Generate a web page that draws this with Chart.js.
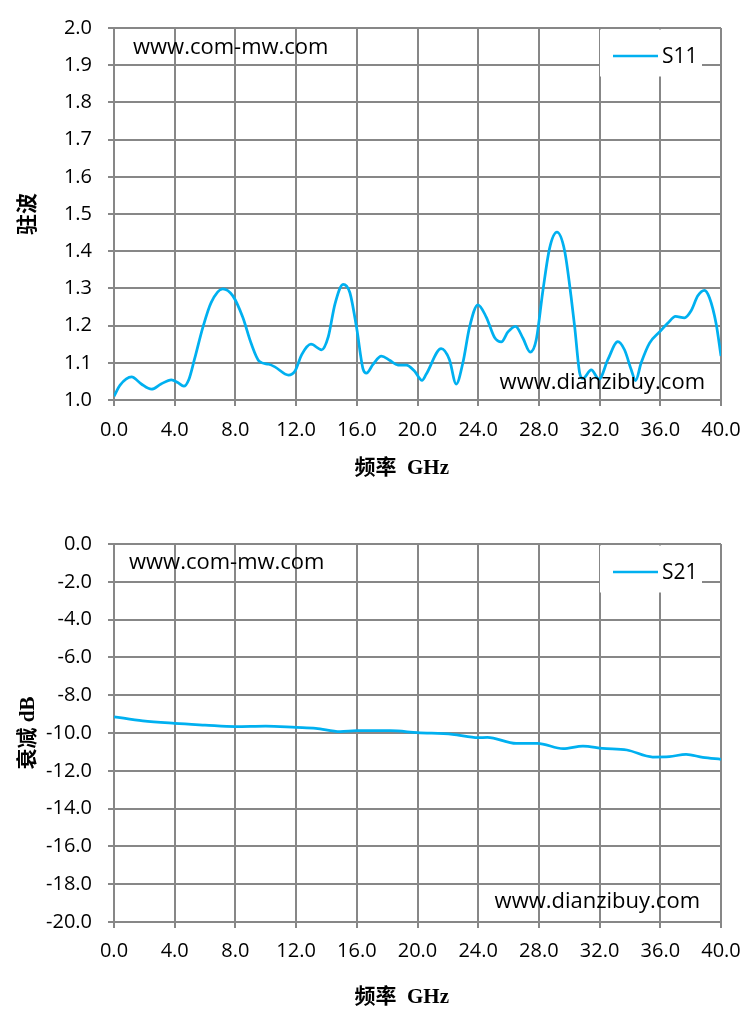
<!DOCTYPE html>
<html>
<head>
<meta charset="utf-8">
<script src="https://cdn.jsdelivr.net/npm/chart.js@4.4.1/dist/chart.umd.min.js"></script>
<style>
    html, body { margin: 0; padding: 0; background: #fff; }
    .panel { position: absolute; left: 0; width: 755px; height: 510px; }
</style>
</head>
<body>
<div class="panel" style="top:0"><canvas id="s11Chart" width="755" height="510"></canvas></div>
<div class="panel" style="top:514px"><canvas id="s21Chart" width="755" height="510"></canvas></div>
<script>
// S11 (VSWR)
const s11Freq = [0, 0.4, 1.16, 1.8, 2.47, 3.1, 3.78, 4.2, 4.6, 4.94, 5.3, 5.86, 6.4, 7.17, 7.83, 8.48, 9.03, 9.57,
    10.2, 10.6, 11.5, 11.93, 12.37, 12.98, 13.68, 14.12, 14.56, 15.1, 15.54, 15.98, 16.42, 16.63, 17.07, 17.62,
    18.16, 18.71, 19.26, 19.8, 20.3, 20.57, 21.56, 22.1, 22.55, 22.99, 23.43, 23.98, 24.53, 25.08, 25.52, 25.96,
    26.46, 26.95, 27.43, 27.82, 28.26, 28.7, 29.19, 29.69, 30.13, 30.36, 30.68, 30.9, 31.45, 31.96, 32.55, 33.2,
    33.64, 34.08, 34.37, 34.74, 35.29, 35.95, 36.5, 37.0, 37.59, 38.03, 38.47, 38.91, 39.24, 39.68, 40.0];
const s11Vswr = [1.01, 1.04, 1.062, 1.043, 1.029, 1.043, 1.054, 1.047, 1.037, 1.056, 1.109, 1.196, 1.262, 1.299, 1.28, 1.223, 1.153, 1.104,
    1.096, 1.089, 1.067, 1.078, 1.122, 1.15, 1.135, 1.17, 1.258, 1.311, 1.289, 1.196, 1.082, 1.072, 1.096, 1.118,
    1.107, 1.094, 1.094, 1.078, 1.053, 1.069, 1.138, 1.109, 1.043, 1.1, 1.196, 1.256, 1.223, 1.168, 1.156, 1.183,
    1.198, 1.166, 1.129, 1.161, 1.293, 1.407, 1.451, 1.402, 1.275, 1.196, 1.074, 1.058, 1.081, 1.056, 1.109, 1.157,
    1.135, 1.082, 1.052, 1.1, 1.153, 1.183, 1.207, 1.225, 1.221, 1.24, 1.28, 1.295, 1.275, 1.205, 1.118];

// S21 (attenuation, dB)
const s21Freq = [0, 1.9, 4, 6, 8, 10, 12, 13.3, 14.9, 16, 18.2, 20, 22.3, 24, 24.6, 26.5, 27.9, 29.6, 30.9, 32.2, 33.8, 35.5, 36.6, 37.7, 38.8, 40];
const s21Loss = [-9.14, -9.36, -9.49, -9.58, -9.66, -9.63, -9.7, -9.75, -9.93, -9.88, -9.88, -9.98, -10.07, -10.25, -10.23, -10.55, -10.55, -10.83, -10.69, -10.81, -10.9, -11.27, -11.25, -11.13, -11.29, -11.39];

const freqLimits = [0, 40, 4];
const vswrLimits = [1.0, 2.0, 0.1];
const lossLimits = [-20, 0, 2];
const siteLeft = 'www.com-mw.com';
const siteRight = 'www.dianzibuy.com';

const GRID = '#878787';
const LINE = '#00b0f0';
const FONT = "'Open Sans', sans-serif";
const TITLE_FONT = "'Liberation Serif', 'Noto Sans CJK SC', serif";

const watermarkPlugin = {
    id: 'watermark',
    afterDatasetsDraw(chart, args, opts) {
        const { ctx, chartArea: a } = chart;
        ctx.save();
        ctx.font = '22px ' + FONT;
        ctx.fillStyle = '#000';
        ctx.textBaseline = 'alphabetic';
        ctx.textAlign = 'left';
        ctx.fillText(siteLeft, a.left + opts.left[0], a.top + opts.left[1]);
        ctx.textAlign = 'right';
        ctx.fillText(siteRight, a.right - opts.right[0], a.bottom - opts.right[1]);
        ctx.restore();
    }
};

// white legend box sitting on the grid, top right
const legendBoxPlugin = {
    id: 'legendBox',
    beforeDatasetsDraw(chart) {
        const { ctx, chartArea: a } = chart;
        const ds = chart.data.datasets[0];
        const x0 = a.right - 121;
        const y = a.top + 28;
        ctx.save();
        ctx.fillStyle = '#fff';
        ctx.fillRect(x0, a.top + 1.5, 102, 47);
        ctx.strokeStyle = ds.borderColor;
        ctx.lineWidth = 2.5;
        ctx.beginPath();
        ctx.moveTo(x0 + 13, y);
        ctx.lineTo(x0 + 58, y);
        ctx.stroke();
        ctx.fillStyle = '#000';
        ctx.font = '21px ' + FONT;
        ctx.textBaseline = 'middle';
        ctx.textAlign = 'left';
        ctx.fillText(ds.label, x0 + 62, y + 1);
        ctx.restore();
    }
};

const axisTitle = (text, padding) => ({
    display: true, text, color: '#000', padding,
    font: { family: TITLE_FONT, size: 21, weight: 'bold' }
});

const buildChart = (id, cfg) => {
    const ctx = document.getElementById(id).getContext('2d');
    return new Chart(ctx, {
        type: 'line',
        data: {
            datasets: [{
                label: cfg.label,
                data: cfg.xs.map((x, i) => ({ x, y: cfg.ys[i] })),
                borderColor: LINE,
                borderWidth: 2.75,
                pointRadius: 0,
                cubicInterpolationMode: 'monotone',
                fill: false
            }]
        },
        plugins: [legendBoxPlugin, watermarkPlugin],
        options: {
            responsive: false,
            animation: false,
            layout: { padding: { top: cfg.top, right: 34, left: 0, bottom: 0 } },
            scales: {
                x: {
                    type: 'linear',
                    min: freqLimits[0], max: freqLimits[1],
                    ticks: {
                        stepSize: freqLimits[2], padding: cfg.xPad, color: '#000', maxRotation: 0, autoSkip: false,
                        font: { family: FONT, size: 20 },
                        callback: v => v.toFixed(1)
                    },
                    grid: { color: GRID, lineWidth: 2, tickLength: 6 },
                    border: { color: GRID, width: 2 },
                    // trailing spaces nudge the centred title left, as in the original
                    title: axisTitle('频率  GHz      ', { top: 0, bottom: cfg.xTitlePad }),
                    afterFit: s => { s.height = cfg.xHeight; }
                },
                y: {
                    min: cfg.yLimits[0], max: cfg.yLimits[1],
                    ticks: {
                        stepSize: cfg.yLimits[2], padding: 16, color: '#000', autoSkip: false,
                        font: { family: FONT, size: 20 },
                        callback: v => v.toFixed(1)
                    },
                    grid: { color: GRID, lineWidth: 2, tickLength: 6 },
                    border: { color: GRID, width: 2 },
                    title: axisTitle(cfg.yTitle, { top: 16, bottom: 0 }),
                    afterFit: s => { s.width = 114; }
                }
            },
            plugins: {
                legend: { display: false },
                tooltip: { enabled: false },
                watermark: cfg.marks
            }
        }
    });
};

buildChart('s11Chart', {
    label: 'S11', xs: s11Freq, ys: s11Vswr, yLimits: vswrLimits, yTitle: '驻波',
    top: 21, xHeight: 110, xPad: 12, xTitlePad: 29,
    marks: { left: [19, 26], right: [16, 11] }
});

buildChart('s21Chart', {
    label: 'S21', xs: s21Freq, ys: s21Loss, yLimits: lossLimits, yTitle: '衰减 dB',
    top: 30, xHeight: 102, xPad: 11, xTitlePad: 14,
    marks: { left: [15, 25], right: [21, 14] }
});
</script>
</body>
</html>
